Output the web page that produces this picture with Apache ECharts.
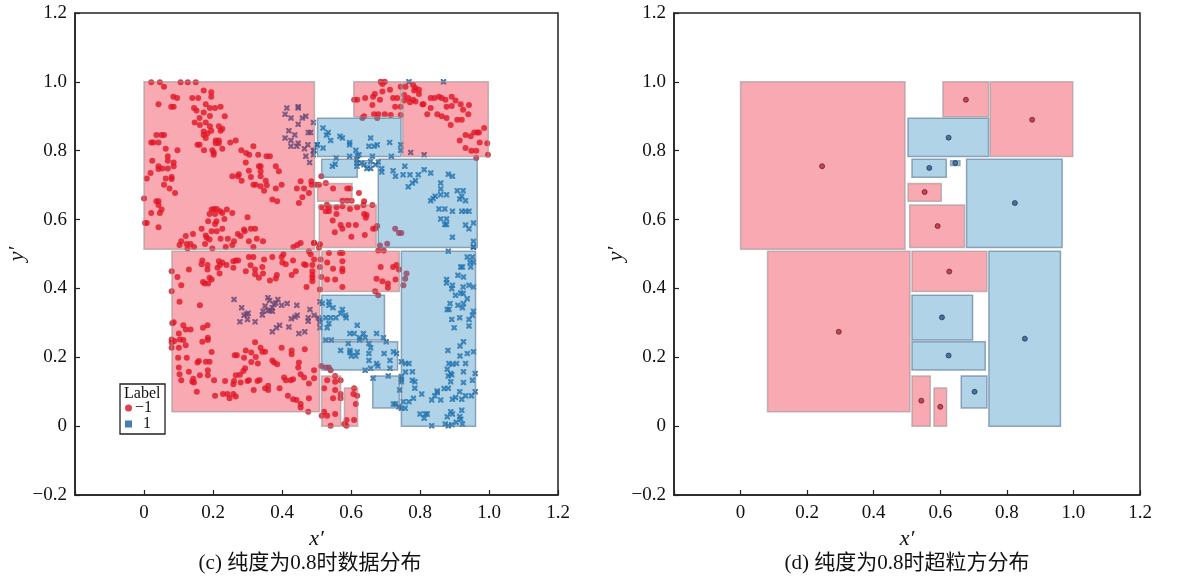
<!DOCTYPE html>
<html>
<head>
<meta charset="utf-8">
<script src="https://cdn.jsdelivr.net/npm/echarts@6/dist/echarts.min.js"></script>
<style>html,body{margin:0;padding:0;background:#fff}#chart{width:1185px;height:580px}</style>
</head>
<body>
<div id="chart"></div>
<script>
// ---- data ----
// hyper-box rectangles: [x0, y0, x1, y1, label]
const boxes = [
  [0.000, 0.514, 0.494, 1.000, -1],
  [0.608, 0.899, 0.745, 1.000, -1],
  [0.750, 0.783, 0.998, 1.000, -1],
  [0.503, 0.783, 0.745, 0.894, 1],
  [0.515, 0.723, 0.618, 0.775, 1],
  [0.631, 0.757, 0.659, 0.771, 1],
  [0.679, 0.519, 0.966, 0.775, 1],
  [0.503, 0.653, 0.603, 0.705, -1],
  [0.508, 0.519, 0.673, 0.642, -1],
  [0.081, 0.042, 0.509, 0.508, -1],
  [0.515, 0.391, 0.740, 0.508, -1],
  [0.746, 0.000, 0.961, 0.508, 1],
  [0.515, 0.250, 0.697, 0.380, 1],
  [0.515, 0.163, 0.735, 0.245, 1],
  [0.515, 0.000, 0.570, 0.146, -1],
  [0.581, 0.000, 0.619, 0.111, -1],
  [0.663, 0.053, 0.740, 0.146, 1]
];
// box centres: [x, y, label]
const boxCenters = [
  [0.245,0.755,-1],[0.677,0.948,-1],[0.876,0.890,-1],[0.625,0.838,1],[0.567,0.750,1],
  [0.645,0.764,1],[0.824,0.648,1],[0.553,0.680,-1],[0.592,0.581,-1],[0.295,0.274,-1],
  [0.627,0.449,-1],[0.854,0.254,1],[0.605,0.316,1],[0.625,0.205,1],[0.543,0.074,-1],
  [0.600,0.056,-1],[0.703,0.100,1]
];
// samples with label -1
const pointsNeg = [
[0.021,0.999],[0.046,0.999],[0.058,0.986],[0.106,0.999],[0.127,0.999],[0.150,0.999],[0.173,0.975],[0.195,0.970],[0.195,0.957],[0.085,0.957],
[0.096,0.953],[0.140,0.953],[0.157,0.953],[0.042,0.935],[0.079,0.928],[0.086,0.928],[0.179,0.935],[0.222,0.928],[0.191,0.924],[0.206,0.924],
[0.145,0.924],[0.152,0.917],[0.173,0.911],[0.191,0.901],[0.234,0.900],[0.161,0.895],[0.147,0.882],[0.162,0.875],[0.179,0.882],[0.191,0.871],
[0.217,0.871],[0.227,0.864],[0.222,0.858],[0.195,0.858],[0.184,0.851],[0.173,0.846],[0.173,0.856],[0.036,0.846],[0.051,0.846],[0.058,0.846],
[0.179,0.837],[0.208,0.830],[0.217,0.830],[0.208,0.822],[0.217,0.822],[0.250,0.824],[0.266,0.830],[0.021,0.824],[0.027,0.824],[0.042,0.824],
[0.161,0.817],[0.155,0.817],[0.063,0.806],[0.097,0.801],[0.174,0.801],[0.198,0.801],[0.202,0.795],[0.202,0.788],[0.227,0.806],[0.282,0.801],
[0.296,0.793],[0.305,0.788],[0.317,0.813],[0.331,0.788],[0.355,0.784],[0.365,0.784],[0.069,0.784],[0.069,0.771],[0.024,0.771],[0.086,0.766],
[0.086,0.755],[0.042,0.755],[0.042,0.747],[0.053,0.748],[0.069,0.748],[0.019,0.735],[0.295,0.766],[0.304,0.742],[0.333,0.755],[0.338,0.755],
[0.338,0.740],[0.382,0.755],[0.391,0.740],[0.080,0.724],[0.080,0.718],[0.008,0.719],[0.063,0.719],[0.256,0.726],[0.272,0.726],[0.275,0.732],
[0.283,0.713],[0.310,0.724],[0.338,0.726],[0.353,0.713],[0.356,0.700],[0.317,0.701],[0.324,0.701],[0.338,0.697],[0.348,0.684],[0.382,0.690],
[0.399,0.701],[0.443,0.690],[0.454,0.711],[0.464,0.690],[0.485,0.711],[0.486,0.701],[0.478,0.677],[0.459,0.665],[0.449,0.648],[0.372,0.658],
[0.386,0.653],[0.058,0.701],[0.074,0.690],[0.090,0.677],[0.000,0.661],[0.036,0.653],[0.042,0.653],[0.042,0.642],[0.051,0.629],[0.021,0.619],
[0.046,0.619],[0.003,0.590],[0.008,0.590],[0.042,0.578],[0.196,0.629],[0.203,0.631],[0.211,0.631],[0.221,0.624],[0.240,0.629],[0.190,0.616],
[0.206,0.616],[0.227,0.619],[0.256,0.619],[0.186,0.595],[0.210,0.595],[0.233,0.602],[0.206,0.587],[0.300,0.607],[0.167,0.573],[0.196,0.566],
[0.211,0.566],[0.227,0.573],[0.290,0.571],[0.310,0.573],[0.322,0.573],[0.292,0.566],[0.121,0.552],[0.142,0.558],[0.179,0.554],[0.182,0.547],
[0.190,0.542],[0.222,0.544],[0.243,0.544],[0.261,0.537],[0.272,0.558],[0.280,0.552],[0.304,0.537],[0.327,0.544],[0.345,0.537],[0.108,0.537],
[0.103,0.526],[0.124,0.529],[0.135,0.529],[0.177,0.529],[0.237,0.520],[0.256,0.526],[0.126,0.516],[0.145,0.520],[0.198,0.516],[0.317,0.520],
[0.433,0.520],[0.454,0.532],[0.444,0.526],[0.493,0.532],[0.478,0.508],
[0.686,1.000],[0.698,1.000],[0.691,0.994],[0.669,0.965],[0.664,0.957],[0.691,0.972],[0.713,0.977],[0.744,0.986],[0.609,0.948],[0.618,0.948],
[0.641,0.953],[0.662,0.933],[0.684,0.948],[0.722,0.953],[0.734,0.953],[0.728,0.928],[0.744,0.928],[0.754,0.962],[0.638,0.900],[0.633,0.895],
[0.667,0.906],[0.679,0.906],[0.676,0.895],[0.698,0.906],[0.715,0.904],[0.744,0.904],[0.754,0.946],
[0.758,0.986],[0.780,0.991],[0.787,0.982],[0.783,0.975],[0.797,0.977],[0.797,0.965],[0.766,0.953],[0.780,0.948],[0.787,0.943],[0.771,0.941],
[0.807,0.935],[0.810,0.935],[0.831,0.953],[0.842,0.953],[0.855,0.957],[0.863,0.953],[0.874,0.948],[0.892,0.957],[0.903,0.946],[0.918,0.935],
[0.892,0.930],[0.877,0.928],[0.831,0.924],[0.821,0.906],[0.850,0.906],[0.863,0.900],[0.877,0.895],[0.889,0.875],[0.908,0.890],[0.921,0.890],
[0.925,0.919],[0.942,0.933],[0.940,0.906],[0.986,0.866],[0.957,0.853],[0.966,0.853],[0.971,0.853],[0.932,0.846],[0.947,0.842],[0.915,0.830],
[0.932,0.808],[0.949,0.800],[0.963,0.800],[0.973,0.824],[0.995,0.822],[0.997,0.788],[0.963,0.779],
[0.514,0.726],[0.527,0.706],[0.498,0.701],[0.507,0.701],[0.548,0.690],[0.589,0.690],[0.597,0.690],[0.623,0.677],[0.575,0.655],[0.589,0.655],
[0.602,0.655],[0.638,0.653],[0.530,0.643],[0.514,0.636],[0.536,0.636],[0.558,0.636],[0.575,0.639],[0.597,0.631],[0.618,0.636],[0.636,0.642],
[0.662,0.642],[0.527,0.624],[0.536,0.624],[0.558,0.616],[0.638,0.616],[0.645,0.613],[0.643,0.605],[0.547,0.597],[0.570,0.584],[0.575,0.573],
[0.593,0.584],[0.614,0.584],[0.676,0.581],[0.671,0.574],[0.664,0.573],[0.553,0.563],[0.640,0.555],[0.601,0.550],[0.510,0.528],[0.493,0.532],
[0.507,0.518],[0.728,0.573],[0.739,0.561],[0.746,0.561],[0.705,0.530],[0.684,0.525],[0.679,0.510],[0.695,0.510],
[0.169,0.481],[0.167,0.470],[0.184,0.468],[0.184,0.455],[0.217,0.479],[0.220,0.468],[0.227,0.475],[0.239,0.468],[0.259,0.479],[0.266,0.481],
[0.273,0.481],[0.304,0.491],[0.317,0.491],[0.348,0.484],[0.372,0.491],[0.399,0.491],[0.404,0.499],[0.432,0.481],[0.411,0.470],[0.401,0.475],
[0.464,0.470],[0.469,0.468],[0.483,0.499],[0.493,0.484],[0.488,0.468],[0.080,0.450],[0.130,0.455],[0.219,0.443],[0.213,0.460],[0.259,0.460],
[0.295,0.450],[0.309,0.467],[0.322,0.455],[0.322,0.441],[0.343,0.462],[0.345,0.443],[0.333,0.431],[0.365,0.423],[0.382,0.429],[0.385,0.439],
[0.428,0.439],[0.440,0.450],[0.488,0.450],[0.488,0.439],[0.488,0.431],[0.488,0.421],[0.471,0.404],[0.171,0.419],[0.176,0.414],[0.186,0.414],
[0.190,0.431],[0.196,0.426],[0.097,0.433],[0.108,0.409],[0.080,0.392],[0.103,0.361],[0.162,0.351],[0.082,0.299],[0.086,0.302],[0.114,0.293],
[0.121,0.281],[0.135,0.281],[0.171,0.286],[0.184,0.293],[0.185,0.257],[0.185,0.250],[0.169,0.245],[0.101,0.269],[0.104,0.252],[0.080,0.252],
[0.080,0.243],[0.088,0.247],[0.114,0.250],[0.121,0.235],[0.080,0.228],[0.101,0.228],[0.196,0.215],[0.159,0.189],[0.155,0.185],[0.179,0.187],
[0.190,0.187],[0.099,0.199],[0.124,0.199],[0.101,0.170],[0.130,0.158],[0.103,0.151],[0.108,0.133],[0.162,0.148],[0.185,0.162],[0.185,0.148],
[0.203,0.133],[0.143,0.138],[0.140,0.129],[0.145,0.127],[0.153,0.100],[0.263,0.206],[0.269,0.206],[0.290,0.199],[0.295,0.220],[0.311,0.214],
[0.322,0.244],[0.324,0.201],[0.338,0.228],[0.343,0.216],[0.351,0.216],[0.311,0.186],[0.330,0.182],[0.293,0.168],[0.288,0.160],[0.278,0.149],
[0.304,0.133],[0.300,0.131],[0.280,0.127],[0.261,0.131],[0.259,0.122],[0.266,0.148],[0.235,0.131],[0.206,0.088],[0.229,0.093],[0.242,0.093],
[0.248,0.081],[0.259,0.093],[0.266,0.086],[0.318,0.105],[0.329,0.131],[0.335,0.134],[0.351,0.110],[0.360,0.117],[0.360,0.105],[0.372,0.191],
[0.377,0.185],[0.386,0.180],[0.399,0.228],[0.428,0.220],[0.428,0.209],[0.449,0.185],[0.447,0.170],[0.454,0.151],[0.466,0.223],[0.493,0.162],
[0.493,0.139],[0.464,0.141],[0.478,0.124],[0.406,0.141],[0.411,0.133],[0.425,0.133],[0.432,0.136],[0.393,0.110],[0.417,0.088],[0.432,0.078],
[0.442,0.076],[0.454,0.064],[0.454,0.054],[0.478,0.081],[0.476,0.042],
[0.536,0.503],[0.568,0.503],[0.575,0.503],[0.512,0.484],[0.531,0.475],[0.575,0.479],[0.510,0.462],[0.548,0.457],[0.575,0.457],[0.575,0.450],
[0.686,0.462],[0.722,0.462],[0.732,0.468],[0.739,0.455],[0.761,0.443],[0.514,0.433],[0.531,0.426],[0.554,0.426],[0.575,0.404],[0.674,0.428],
[0.691,0.421],[0.707,0.414],[0.707,0.402],[0.729,0.426],[0.757,0.428],[0.752,0.409],[0.510,0.397],[0.670,0.392],[0.679,0.380],
[0.514,0.175],[0.527,0.170],[0.536,0.170],[0.541,0.162],[0.531,0.133],[0.554,0.146],[0.554,0.129],[0.570,0.133],[0.522,0.110],[0.554,0.105],
[0.570,0.093],[0.570,0.081],[0.548,0.081],[0.522,0.042],[0.531,0.030],[0.515,0.030],[0.554,0.035],[0.541,0.001],[0.609,0.110],[0.618,0.088],
[0.607,0.093],[0.614,0.064],[0.609,0.018],[0.587,0.018],[0.580,0.006],[0.587,0.001]
];
// samples with label 1
const pointsPos = [
[0.414,0.924],[0.447,0.928],[0.447,0.924],[0.409,0.906],[0.426,0.895],[0.459,0.895],[0.469,0.900],[0.447,0.877],[0.491,0.882],[0.420,0.858],
[0.437,0.846],[0.476,0.853],[0.483,0.853],[0.409,0.837],[0.426,0.830],[0.447,0.822],[0.475,0.817],[0.426,0.813],[0.443,0.813],[0.465,0.806],
[0.491,0.800],[0.491,0.788],[0.469,0.784],[0.480,0.766],[0.502,0.817],
[0.768,1.000],[0.868,1.000],[0.519,0.866],[0.534,0.853],[0.529,0.846],[0.541,0.830],[0.568,0.842],[0.575,0.837],[0.596,0.824],[0.596,0.817],
[0.657,0.837],[0.676,0.817],[0.667,0.813],[0.652,0.813],[0.712,0.824],[0.744,0.817],[0.744,0.801],[0.502,0.817],[0.519,0.808],[0.493,0.801],
[0.614,0.801],[0.623,0.788],[0.618,0.786],[0.596,0.784],[0.662,0.784],[0.717,0.784],[0.773,0.795],[0.812,0.788],[0.557,0.779],[0.617,0.774],
[0.617,0.764],[0.631,0.764],[0.638,0.759],[0.657,0.769],[0.679,0.767],[0.671,0.759],[0.617,0.755],[0.646,0.748],[0.657,0.748],[0.554,0.761],
[0.546,0.755],[0.689,0.748],[0.689,0.738],[0.722,0.742],[0.756,0.755],[0.729,0.726],[0.751,0.730],[0.771,0.730],[0.795,0.730],[0.812,0.745],
[0.831,0.735],[0.882,0.732],[0.894,0.726],[0.778,0.706],[0.787,0.713],[0.766,0.695],[0.860,0.706],[0.860,0.689],[0.877,0.672],[0.860,0.672],
[0.908,0.684],[0.925,0.684],[0.915,0.660],[0.921,0.668],[0.932,0.655],[0.844,0.668],[0.838,0.661],[0.831,0.655],[0.855,0.631],[0.872,0.631],
[0.894,0.624],[0.921,0.624],[0.932,0.624],[0.942,0.624],[0.860,0.602],[0.877,0.602],[0.872,0.586],[0.877,0.586],[0.932,0.584],[0.942,0.573],
[0.955,0.590],[0.894,0.549],[0.955,0.537],[0.955,0.520],[0.882,0.508],
[0.261,0.368],[0.283,0.344],[0.290,0.322],[0.297,0.325],[0.302,0.328],[0.300,0.310],[0.278,0.303],[0.322,0.303],[0.343,0.323],[0.345,0.334],
[0.351,0.349],[0.359,0.373],[0.364,0.365],[0.359,0.336],[0.365,0.336],[0.372,0.344],[0.372,0.334],[0.377,0.354],[0.382,0.358],[0.388,0.368],
[0.399,0.351],[0.415,0.356],[0.443,0.351],[0.481,0.339],[0.476,0.315],[0.476,0.305],[0.493,0.322],[0.505,0.315],[0.444,0.322],[0.438,0.317],
[0.427,0.312],[0.420,0.288],[0.393,0.293],[0.384,0.286],[0.372,0.274],[0.449,0.269],[0.466,0.274],
[0.955,0.520],[0.937,0.491],[0.952,0.491],[0.945,0.476],[0.918,0.462],[0.923,0.462],[0.947,0.462],[0.955,0.476],[0.910,0.438],[0.926,0.433],
[0.877,0.426],[0.877,0.416],[0.894,0.409],[0.892,0.399],[0.925,0.404],[0.942,0.409],[0.955,0.404],[0.903,0.380],[0.918,0.387],[0.925,0.385],
[0.937,0.370],[0.887,0.356],[0.910,0.351],[0.926,0.356],[0.923,0.344],[0.879,0.339],[0.884,0.339],[0.955,0.334],[0.952,0.322],[0.915,0.315],
[0.942,0.310],[0.892,0.310],[0.899,0.286],[0.942,0.291],[0.881,0.220],[0.916,0.233],[0.926,0.245],[0.916,0.204],[0.937,0.211],[0.955,0.216],
[0.510,0.361],[0.517,0.356],[0.536,0.361],[0.536,0.351],[0.548,0.344],[0.575,0.339],[0.570,0.327],[0.584,0.322],[0.586,0.315],[0.527,0.315],
[0.541,0.315],[0.556,0.315],[0.536,0.298],[0.510,0.310],[0.510,0.302],[0.531,0.286],[0.510,0.286],[0.618,0.293],[0.597,0.269],[0.609,0.269],
[0.636,0.269],[0.641,0.257],[0.625,0.257],[0.625,0.250],[0.674,0.269],[0.694,0.257],[0.702,0.245],[0.527,0.250],[0.543,0.250],
[0.592,0.240],[0.652,0.240],[0.570,0.220],[0.597,0.220],[0.597,0.214],[0.618,0.215],[0.601,0.204],[0.614,0.204],[0.657,0.228],[0.652,0.211],
[0.696,0.211],[0.723,0.216],[0.732,0.211],[0.652,0.191],[0.674,0.182],[0.678,0.175],[0.713,0.191],[0.657,0.168],[0.641,0.162],[0.713,0.168],
[0.746,0.187],[0.758,0.182],[0.768,0.182],[0.758,0.157],[0.778,0.158],[0.746,0.144],[0.746,0.136],[0.746,0.129],[0.778,0.133],[0.785,0.129],
[0.785,0.110],[0.741,0.105],[0.708,0.146],[0.664,0.139],[0.723,0.064],[0.729,0.064],[0.752,0.071],[0.768,0.071],[0.781,0.081],[0.805,0.093],
[0.834,0.076],[0.843,0.088],[0.850,0.102],[0.850,0.098],[0.860,0.076],[0.870,0.109],[0.882,0.110],[0.882,0.146],[0.889,0.153],[0.892,0.149],
[0.889,0.129],[0.879,0.165],[0.884,0.182],[0.894,0.180],[0.906,0.182],[0.926,0.158],[0.932,0.182],[0.926,0.127],[0.952,0.133],[0.960,0.153],
[0.960,0.100],[0.949,0.088],[0.932,0.088],[0.915,0.100],[0.903,0.083],[0.894,0.078],[0.921,0.078],[0.921,0.046],[0.915,0.028],[0.918,0.020],
[0.889,0.042],[0.894,0.035],[0.879,0.027],[0.800,0.035],[0.816,0.035],[0.821,0.035],[0.812,0.023],[0.834,0.001],[0.873,0.006],[0.882,0.001],
[0.892,0.004],[0.905,0.011],[0.923,0.006],[0.746,0.052],[0.757,0.052],[0.739,0.056]
];
const xTickValues = [-0.2, 0, 0.2, 0.4, 0.6, 0.8, 1.0, 1.2];
const captions = ['(c) 纯度为0.8时数据分布', '(d) 纯度为0.8时超粒方分布'];
const legendTitle = 'Label';
const labelNames = ['−1', '1'];

// ---- chart ----
const SERIF = 'Liberation Serif';
const CAP_FONT = "Liberation Serif, Noto Sans CJK SC";
const RED_PT = '#d8121f', BLUE_PT = '#15609f';
const X_PATH = 'path://M0,0 L3,0 L5,2.2 L7,0 L10,0 L10,3 L7.8,5 L10,7 L10,10 L7,10 L5,7.8 L3,10 L0,10 L0,7 L2.2,5 L0,3 Z';

function fmt(v) {
  const r = Math.round(v * 10) / 10;
  if (Math.abs(r) < 1e-9) return '0';
  return (r < 0 ? '−' : '') + Math.abs(r).toFixed(1);
}
function makeX(gi) {
  return {
    gridIndex: gi, type: 'value', min: xTickValues[0], max: xTickValues[xTickValues.length - 1], interval: 0.2,
    name: 'x′', nameLocation: 'middle', nameGap: 29,
    nameTextStyle: { fontFamily: SERIF, fontStyle: 'italic', fontSize: 22, color: '#111' },
    axisLine: { show: true, onZero: false, lineStyle: { color: '#222', width: 1.5 } },
    axisTick: { show: true, inside: true, length: 5, lineStyle: { color: '#222', width: 1.2 } },
    axisLabel: { margin: 9, fontFamily: SERIF, fontSize: 19, color: '#111',
      formatter: v => (v < xTickValues[0] + 1e-6 ? '' : fmt(v)) },
    splitLine: { show: false }
  };
}
function makeY(gi) {
  return {
    gridIndex: gi, type: 'value', min: -0.2, max: 1.2, interval: 0.2,
    name: 'y′', nameLocation: 'middle', nameGap: 46, nameRotate: 90,
    nameTextStyle: { fontFamily: SERIF, fontStyle: 'italic', fontSize: 22, color: '#111' },
    axisLine: { show: true, onZero: false, lineStyle: { color: '#222', width: 1.5 } },
    axisTick: { show: true, inside: true, length: 5, lineStyle: { color: '#222', width: 1.2 } },
    axisLabel: { margin: 8, fontFamily: SERIF, fontSize: 19, color: '#111', formatter: fmt },
    splitLine: { show: false }
  };
}
function boxSeries(gi, z) {
  return {
    type: 'custom', xAxisIndex: gi, yAxisIndex: gi, z: z, silent: true,
    data: boxes,
    encode: { x: [0, 2], y: [1, 3] },
    renderItem: function (params, api) {
      const p0 = api.coord([api.value(0), api.value(1)]);
      const p1 = api.coord([api.value(2), api.value(3)]);
      const neg = api.value(4) < 0;
      return {
        type: 'rect',
        shape: { x: p0[0], y: p1[1], width: p1[0] - p0[0], height: p0[1] - p1[1] },
        style: {
          fill: neg ? 'rgba(240,30,50,0.38)' : 'rgba(58,145,198,0.40)',
          stroke: neg ? 'rgba(150,150,150,0.6)' : 'rgba(95,125,155,0.65)',
          lineWidth: 1.5
        }
      };
    }
  };
}

const chart = echarts.init(document.getElementById('chart'), null, { renderer: 'canvas' });
chart.setOption({
  animation: false,
  backgroundColor: '#fff',
  textStyle: { fontFamily: SERIF },
  title: [
    { text: captions[0], left: 310, top: 553, textAlign: 'center', padding: 0,
      textStyle: { fontFamily: CAP_FONT, fontSize: 21, fontWeight: 'normal', color: '#111' } },
    { text: captions[1], left: 907, top: 553, textAlign: 'center', padding: 0,
      textStyle: { fontFamily: CAP_FONT, fontSize: 21, fontWeight: 'normal', color: '#111' } },
    { text: legendTitle, left: 124, top: 386, padding: 0,
      textStyle: { fontFamily: SERIF, fontSize: 16, fontWeight: 'normal', color: '#111' } }
  ],
  legend: {
    left: 120, top: 384, orient: 'vertical',
    data: [{ name: labelNames[0], icon: 'circle' }, { name: labelNames[1], icon: 'rect' }],
    itemWidth: 7, itemHeight: 7, itemGap: 0,
    padding: [16, 13, 2, 5],
    borderColor: '#222', borderWidth: 1.3,
    formatter: n => (n === labelNames[1] ? '  ' + n : n),
    textStyle: { fontFamily: SERIF, fontSize: 16, lineHeight: 13, color: '#111', padding: [0, 0, 0, -2] },
    selectedMode: false
  },
  grid: [
    { left: 75, top: 13, width: 483, height: 482, show: true, borderColor: '#222', borderWidth: 1.5 },
    { left: 674, top: 13, width: 466, height: 482, show: true, borderColor: '#222', borderWidth: 1.5 }
  ],
  xAxis: [makeX(0), makeX(1)],
  yAxis: [makeY(0), makeY(1)],
  series: [
    { name: labelNames[0], type: 'scatter', xAxisIndex: 0, yAxisIndex: 0, z: 2,
      data: pointsNeg, symbol: 'circle', symbolSize: 6, itemStyle: { color: RED_PT } },
    { name: labelNames[1], type: 'scatter', xAxisIndex: 0, yAxisIndex: 0, z: 2,
      data: pointsPos, symbol: X_PATH, symbolSize: 5.5, itemStyle: { color: BLUE_PT } },
    boxSeries(0, 3),
    boxSeries(1, 2),
    { name: 'centres', type: 'scatter', xAxisIndex: 1, yAxisIndex: 1, z: 4,
      data: boxCenters, symbol: 'circle', symbolSize: 5,
      itemStyle: { color: p => (p.data[2] < 0 ? '#d81e2c' : '#1f5f9a'), borderColor: '#222', borderWidth: 0.8 } }
  ]
});
</script>
</body>
</html>
